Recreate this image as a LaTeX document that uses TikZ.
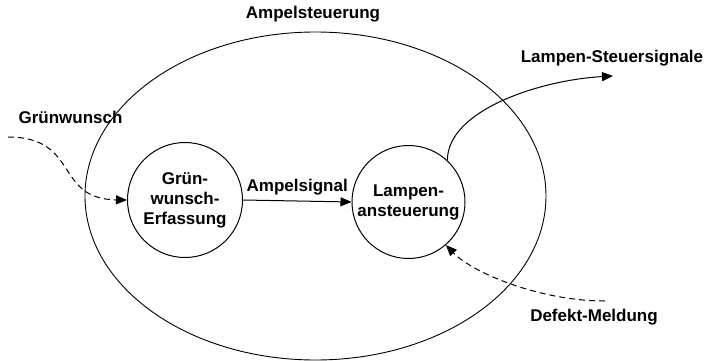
\documentclass[tikz,border=0pt]{standalone}
\usepackage{fontspec}
\setmainfont{Liberation Sans}
\usetikzlibrary{arrows.meta}
\begin{document}
\begin{tikzpicture}[x=1pt,y=-1pt,
  every node/.style={font=\fontsize{17}{20}\selectfont\bfseries},
  proc/.style={draw,circle,line width=1pt,inner sep=0pt,align=center},
  lbl/.style={inner sep=0pt},
  flow/.style={line width=1pt,-{Triangle[length=11pt,width=9pt]}},
  dflow/.style={flow,dash pattern=on 6pt off 4pt}]
\useasboundingbox (0,0) rectangle (707,361);

% system boundary
\draw[line width=0.9pt] (315.5,196) ellipse [x radius=230.5, y radius=164];
\node[lbl] (sys) at (313,14) {Ampelsteuerung};

% processes
\node[proc,minimum size=115pt] (gw) at (185,200) {Grün-\\wunsch-\\Erfassung};
\node[proc,minimum size=113pt] (ls) at (408.5,202) {Lampen-\\ansteuerung};

% internal flow
\draw[flow] (gw.east) -- node[lbl,above=5pt] (as) {Ampelsignal} (ls.west);

% external labels and free ends
\node[lbl] (gwl) at (70.5,117) {Grünwunsch};
\node[lbl] (lsl) at (612,58) {Lampen-Steuersignale};
\node[lbl] (dml) at (594,317) {Defekt-Meldung};
\coordinate (gwin) at (8,137);
\coordinate (lsout) at (613,76);
\coordinate (dmin) at (605,301);

% external flows
\draw[dflow] (gwin) .. controls +(72,0) and +(-73,-1) .. (gw.west);
\draw[flow] (ls.47) .. controls +(0,-50) and +(-73,4) .. (lsout);
\draw[dflow] (dmin) .. controls +(-65,0) and +(27,28) .. (ls.-49);
\end{tikzpicture}
\end{document}
